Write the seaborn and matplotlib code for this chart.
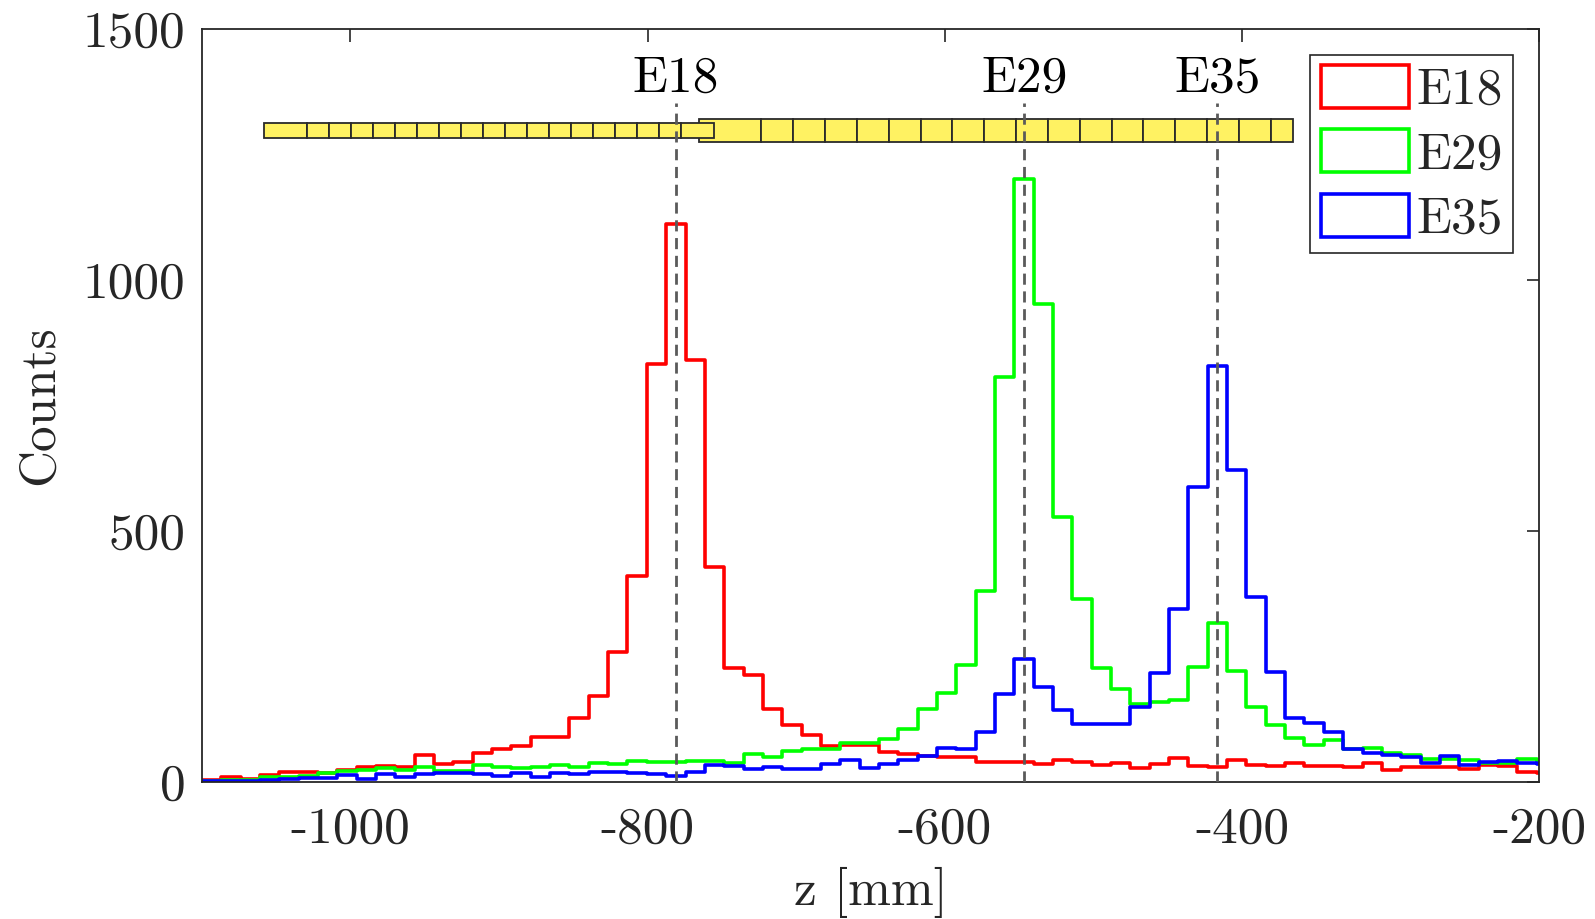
import numpy as np
import pandas as pd
import matplotlib
matplotlib.use("Agg")
import matplotlib.pyplot as plt
from matplotlib.patches import Rectangle, Patch
from matplotlib.ticker import FuncFormatter, FixedLocator
import seaborn as sns

# Common histogram binning for the three modules
BIN_START = -1100.0
BIN_WIDTH = 13.02
N_BINS = 70

counts_e18 = [4, 9, 6, 14, 19, 20, 17, 23, 30, 32,
              29, 53, 35, 39, 57, 65, 72, 89, 89, 127,
              172, 258, 410, 833, 1112, 840, 428, 227, 213, 145,
              114, 93, 71, 73, 74, 60, 55, 52, 49, 49,
              40, 40, 40, 36, 44, 39, 33, 37, 27, 35,
              48, 32, 29, 44, 34, 32, 37, 32, 32, 29,
              38, 24, 29, 29, 29, 25, 34, 31, 19, 17]

counts_e29 = [1, 3, 3, 10, 10, 12, 18, 21, 24, 27,
              24, 30, 21, 21, 33, 30, 28, 29, 33, 29,
              37, 35, 42, 39, 40, 42, 41, 38, 56, 50,
              62, 65, 65, 77, 78, 86, 106, 146, 177, 233,
              380, 806, 1202, 952, 528, 365, 228, 186, 155, 159,
              163, 229, 316, 221, 150, 113, 88, 73, 83, 66,
              67, 57, 54, 45, 45, 43, 37, 37, 45, 40]

counts_e35 = [1, 2, 1, 3, 5, 8, 7, 14, 5, 15,
              9, 15, 17, 17, 15, 12, 17, 9, 18, 15,
              20, 19, 18, 16, 12, 20, 34, 32, 26, 29,
              25, 26, 36, 44, 28, 36, 43, 52, 68, 65,
              99, 175, 244, 190, 144, 116, 116, 115, 150, 218,
              345, 588, 828, 622, 368, 220, 127, 117, 100, 65,
              57, 54, 50, 38, 52, 34, 40, 42, 37, 35]

modules = ["E18", "E29", "E35"]
module_colors = ["#ff0000", "#00ff00", "#0000ff"]
module_z = [-781.0, -546.5, -416.5]

# Detector stave outlines (z ranges in mm) and their segment boundaries
small_stave = (-1058.0, -755.5)
small_dividers = [-1029.2 + 14.8 * j for j in range(18)]
large_stave = (-765.5, -365.4)
large_dividers = [-723.4 + 21.43 * j for j in range(17)]

x_ticks = [-1000, -800, -600, -400, -200]
y_ticks = [0, 500, 1000, 1500]

sns.set_theme(style="white")
plt.rcParams["font.family"] = ["cmr10", "DejaVu Serif"]
plt.rcParams["axes.unicode_minus"] = False
plt.rcParams["axes.formatter.use_mathtext"] = True
plt.rcParams["mathtext.fontset"] = "cm"

FS = 37
AX_COLOR = "#262626"

fig = plt.figure(figsize=(15.95, 9.19), dpi=100)
ax = fig.add_axes([0.1266, 0.1491, 0.8383, 0.8193])

edges = (BIN_START + BIN_WIDTH * np.arange(N_BINS + 1)).tolist()
centers = [0.5 * (a + b) for a, b in zip(edges[:-1], edges[1:])]

for name, counts, color in zip(modules, [counts_e18, counts_e29, counts_e35], module_colors):
    df = pd.DataFrame({"z": centers, "count": counts})
    sns.histplot(data=df, x="z", weights="count", bins=edges, element="step",
                 fill=False, color=color, linewidth=2.6, ax=ax, zorder=2)


def draw_stave(z_range, dividers, y_center, height, zorder):
    lo, hi = z_range
    bounds = [lo] + [d for d in dividers if lo < d < hi] + [hi]
    for a, b in zip(bounds[:-1], bounds[1:]):
        ax.add_patch(Rectangle((a, y_center - height / 2), b - a, height,
                               facecolor="#fff262", edgecolor="#2a2a2a",
                               linewidth=1.3, zorder=zorder))


draw_stave(large_stave, large_dividers, 1298, 45, 3)
draw_stave(small_stave, small_dividers, 1298, 29, 3.5)

for name, z in zip(modules, module_z):
    ax.plot([z, z], [0, 1352], color="#5a5a5a", linestyle=(0, (4, 2.4)),
            linewidth=2.0, zorder=4)
    ax.text(z, 1375, name, ha="center", va="baseline", fontsize=FS,
            color="black", zorder=5)

ax.set_xlim(-1100, -200)
ax.set_ylim(0, 1500)
ax.xaxis.set_major_locator(FixedLocator(x_ticks))
ax.yaxis.set_major_locator(FixedLocator(y_ticks))
fmt = FuncFormatter(lambda v, p: f"{v:.0f}")
ax.xaxis.set_major_formatter(fmt)
ax.yaxis.set_major_formatter(fmt)

ax.tick_params(axis="both", direction="in", top=True, right=True, length=9,
               width=1.2, color=AX_COLOR, labelsize=FS, labelcolor=AX_COLOR)
ax.tick_params(axis="x", pad=18)
ax.tick_params(axis="y", pad=12)
for sp in ax.spines.values():
    sp.set_color(AX_COLOR)
    sp.set_linewidth(1.3)

ax.set_xlabel("z [mm]", fontsize=FS, color=AX_COLOR, labelpad=10)
ax.set_ylabel("Counts", fontsize=FS, color=AX_COLOR, labelpad=14)

handles = [Patch(facecolor="white", edgecolor=c, linewidth=2.6, label=n)
           for n, c in zip(modules, module_colors)]
leg = ax.legend(handles=handles, loc="upper right", fontsize=FS, frameon=True,
                fancybox=False, edgecolor=AX_COLOR, framealpha=1,
                handlelength=1.72, handleheight=0.9, handletextpad=0.15,
                labelspacing=0.3, borderpad=0.2, borderaxespad=0.5)
leg.get_frame().set_linewidth(1.2)
leg.set_zorder(6)

fig.savefig("out.png", dpi=100, facecolor="white")
